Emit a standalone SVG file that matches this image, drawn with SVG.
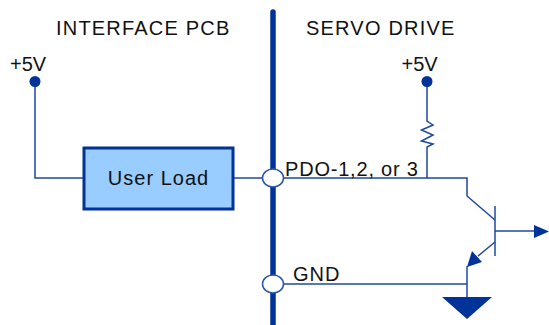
<svg xmlns="http://www.w3.org/2000/svg" width="549" height="325" viewBox="0 0 549 325">
<style>
text{font-family:"Liberation Sans",Arial,sans-serif;font-size:20px;fill:#111}
.w{fill:none;stroke:#1f479f;stroke-width:1.5}
.s{fill:#003399;stroke:none}
.port{fill:#fff;stroke:#2a55a8;stroke-width:1.5}
</style>
<rect width="549" height="325" fill="#fff"/>
<g id="divider"><line x1="273" y1="12" x2="273" y2="325" stroke="#003399" stroke-width="5.5" stroke-linecap="round"/></g>
<g id="connectors">
<path class="w" d="M35 82V178H83"/>
<path class="w" d="M234 178H263"/>
<path class="w" d="M427 82V121L433 125 421.500 130 433 135 421.500 141 433 144 427 147V178"/>
<path class="w" d="M283 178H467V196L495 220"/>
<path class="w" d="M495 206V256"/>
<path class="w" d="M495 231H534"/>
<path class="w" d="M495 242L478 256"/>
<path class="w" d="M283 284H467"/>
<path class="w" d="M467 266V297"/>
<polygon class="s" points="534,225 549,231.500 534,238"/>
<polygon class="s" points="467,267 472,251 482,262"/>
</g>
<g id="labels">
<text x="56" y="35" letter-spacing="1.2">INTERFACE PCB</text>
<text x="306" y="35" letter-spacing="1.2">SERVO DRIVE</text>
</g>
<g id="v5-left"><circle class="s" cx="35" cy="81.500" r="5.500"/><text x="10" y="70.500">+5V</text></g>
<g id="v5-right"><circle class="s" cx="427" cy="81.500" r="5.500"/><text x="401.500" y="70.500">+5V</text></g>
<g id="user-load"><rect x="84" y="148" width="149" height="61" fill="#99ccff" stroke="#003399" stroke-width="3"/><text x="158.500" y="184.500" text-anchor="middle" letter-spacing="1">User Load</text></g>
<g id="port-pdo"><ellipse class="port" cx="273" cy="178" rx="10.500" ry="9"/><text x="285" y="176" letter-spacing="0.8">PDO-1,2, or 3</text></g>
<g id="port-gnd"><ellipse class="port" cx="273" cy="284" rx="10.500" ry="9"/><text x="293" y="281" letter-spacing="1">GND</text></g>
<g id="ground"><polygon class="s" points="442,297 492,297 467,319"/></g>
</svg>
